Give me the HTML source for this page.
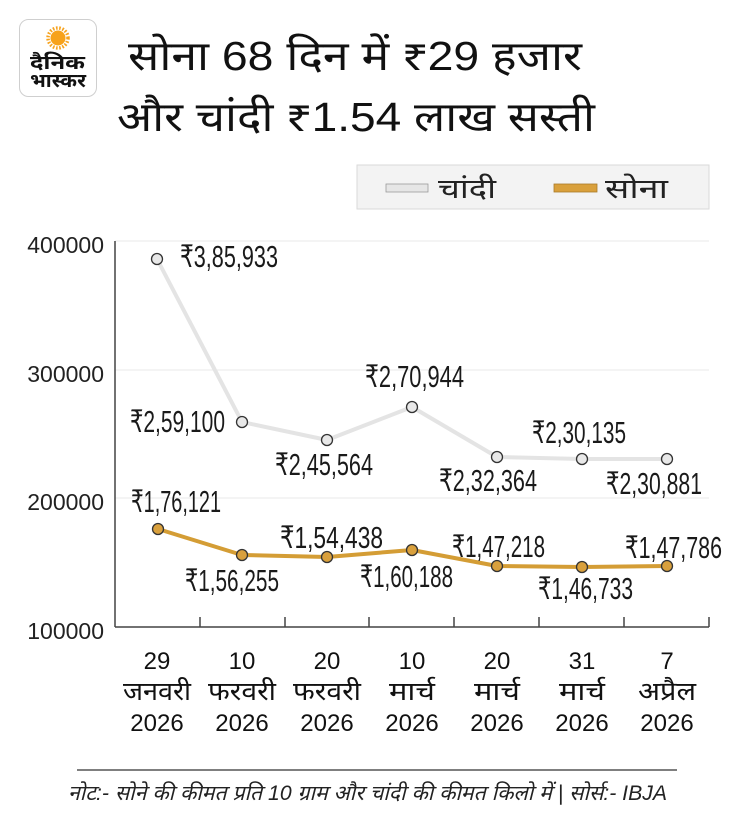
<!DOCTYPE html>
<html>
<head>
<meta charset="utf-8">
<style>
html,body{margin:0;padding:0;background:#fff;}
svg{display:block;}
.dv{font-family:"Liberation Sans","Noto Sans Devanagari","Lohit Devanagari","Mukta","Noto Sans CJK SC",sans-serif;}
.num{font-family:"Liberation Sans","DejaVu Sans",sans-serif;}
</style>
</head>
<body>
<svg width="730" height="830" viewBox="0 0 730 830" xmlns="http://www.w3.org/2000/svg">
  <rect width="730" height="830" fill="#fff"/>

  <!-- Logo -->
  <rect x="19.5" y="19.5" width="77" height="77" rx="9" fill="#fff" stroke="#cfcfcf" stroke-width="1"/>
  <circle cx="58" cy="38" r="7.5" fill="#f7a21b"/>
  <circle cx="58" cy="38" r="10" fill="none" stroke="#f7a21b" stroke-width="3.5" stroke-dasharray="1.6 1.6"/>
  <text class="dv" x="30" y="69" font-size="19" font-weight="bold" fill="#111" textLength="55" lengthAdjust="spacingAndGlyphs">दैनिक</text>
  <text class="dv" x="30" y="87" font-size="19" font-weight="bold" fill="#111" textLength="56" lengthAdjust="spacingAndGlyphs">भास्कर</text>

  <!-- Title -->
  <text class="dv" x="128" y="70" font-size="41" fill="#111" textLength="454" lengthAdjust="spacingAndGlyphs">सोना 68 दिन में ₹29 हजार</text>
  <text class="dv" x="117" y="131" font-size="41" fill="#111" textLength="478" lengthAdjust="spacingAndGlyphs">और चांदी ₹1.54 लाख सस्ती</text>

  <!-- Legend -->
  <rect x="357" y="165" width="352" height="44" fill="#f3f3f3" stroke="#d9d9d9" stroke-width="1"/>
  <rect x="386" y="184" width="42" height="8" fill="#e6e6e6" stroke="#9a9a9a" stroke-width="0.8"/>
  <text class="dv" x="438" y="198" font-size="27" fill="#222" textLength="58" lengthAdjust="spacingAndGlyphs">चांदी</text>
  <rect x="554" y="184" width="43" height="8" fill="#d9a03c" stroke="#a87b2a" stroke-width="0.8"/>
  <text class="dv" x="605" y="198" font-size="27" fill="#222" textLength="63" lengthAdjust="spacingAndGlyphs">सोना</text>

  <!-- Gridlines -->
  <g stroke="#e9e9e9" stroke-width="1">
    <line x1="115" y1="241" x2="709" y2="241"/>
    <line x1="115" y1="370" x2="709" y2="370"/>
    <line x1="115" y1="498" x2="709" y2="498"/>
  </g>

  <!-- Axes -->
  <g stroke="#444" stroke-width="1.5" fill="none">
    <line x1="115" y1="241" x2="115" y2="627"/>
    <line x1="115" y1="627" x2="709" y2="627"/>
    <line x1="200" y1="617" x2="200" y2="627"/>
    <line x1="285" y1="617" x2="285" y2="627"/>
    <line x1="369" y1="617" x2="369" y2="627"/>
    <line x1="454" y1="617" x2="454" y2="627"/>
    <line x1="539" y1="617" x2="539" y2="627"/>
    <line x1="624" y1="617" x2="624" y2="627"/>
    <line x1="709" y1="617" x2="709" y2="627"/>
  </g>

  <!-- Y labels -->
  <g class="num" font-size="23" fill="#222" text-anchor="end">
    <text x="104" y="253">400000</text>
    <text x="104" y="382">300000</text>
    <text x="104" y="510">200000</text>
    <text x="104" y="639">100000</text>
  </g>

  <!-- Silver series -->
  <polyline points="157,259 242,422 327,440 412,407 497,457 582,459 667,459" fill="none" stroke="#e4e4e4" stroke-width="4" stroke-linejoin="round"/>
  <g fill="#e8e8e8" stroke="#333" stroke-width="1.3">
    <circle cx="157" cy="259" r="5.5"/>
    <circle cx="242" cy="422" r="5.5"/>
    <circle cx="327" cy="440" r="5.5"/>
    <circle cx="412" cy="407" r="5.5"/>
    <circle cx="497" cy="457" r="5.5"/>
    <circle cx="582" cy="459" r="5.5"/>
    <circle cx="667" cy="459" r="5.5"/>
  </g>

  <!-- Gold series -->
  <polyline points="158,529 242,555 327,557 412,550 497,566 582,567 667,566" fill="none" stroke="#d49d35" stroke-width="4" stroke-linejoin="round"/>
  <g fill="#d9a03c" stroke="#333" stroke-width="1.3">
    <circle cx="158" cy="529" r="5.5"/>
    <circle cx="242" cy="555" r="5.5"/>
    <circle cx="327" cy="557" r="5.5"/>
    <circle cx="412" cy="550" r="5.5"/>
    <circle cx="497" cy="566" r="5.5"/>
    <circle cx="582" cy="567" r="5.5"/>
    <circle cx="667" cy="566" r="5.5"/>
  </g>

  <!-- Data labels -->
  <g class="num" font-size="31" fill="#1a1a1a">
    <text x="180" y="267" textLength="98" lengthAdjust="spacingAndGlyphs">₹3,85,933</text>
    <text x="130" y="432" textLength="95" lengthAdjust="spacingAndGlyphs">₹2,59,100</text>
    <text x="275" y="475" textLength="98" lengthAdjust="spacingAndGlyphs">₹2,45,564</text>
    <text x="365" y="387" textLength="99" lengthAdjust="spacingAndGlyphs">₹2,70,944</text>
    <text x="439" y="491" textLength="98" lengthAdjust="spacingAndGlyphs">₹2,32,364</text>
    <text x="532" y="443" textLength="94" lengthAdjust="spacingAndGlyphs">₹2,30,135</text>
    <text x="606" y="494" textLength="96" lengthAdjust="spacingAndGlyphs">₹2,30,881</text>
    <text x="131" y="512" textLength="90" lengthAdjust="spacingAndGlyphs">₹1,76,121</text>
    <text x="185" y="591" textLength="94" lengthAdjust="spacingAndGlyphs">₹1,56,255</text>
    <text x="280" y="548" textLength="103" lengthAdjust="spacingAndGlyphs">₹1,54,438</text>
    <text x="360" y="587" textLength="93" lengthAdjust="spacingAndGlyphs">₹1,60,188</text>
    <text x="452" y="557" textLength="93" lengthAdjust="spacingAndGlyphs">₹1,47,218</text>
    <text x="538" y="599" textLength="95" lengthAdjust="spacingAndGlyphs">₹1,46,733</text>
    <text x="625" y="558" textLength="97" lengthAdjust="spacingAndGlyphs">₹1,47,786</text>
  </g>

  <!-- X labels -->
  <g class="num" font-size="24" fill="#111" text-anchor="middle">
    <text x="157" y="669">29</text>
    <text x="157" y="731">2026</text>
    <text x="242" y="669">10</text>
    <text x="242" y="731">2026</text>
    <text x="327" y="669">20</text>
    <text x="327" y="731">2026</text>
    <text x="412" y="669">10</text>
    <text x="412" y="731">2026</text>
    <text x="497" y="669">20</text>
    <text x="497" y="731">2026</text>
    <text x="582" y="669">31</text>
    <text x="582" y="731">2026</text>
    <text x="667" y="669">7</text>
    <text x="667" y="731">2026</text>
  </g>
  <g class="dv" font-size="26" fill="#111">
    <text x="123" y="700" textLength="68" lengthAdjust="spacingAndGlyphs">जनवरी</text>
    <text x="208" y="700" textLength="68" lengthAdjust="spacingAndGlyphs">फरवरी</text>
    <text x="293" y="700" textLength="68" lengthAdjust="spacingAndGlyphs">फरवरी</text>
    <text x="389" y="700" textLength="46" lengthAdjust="spacingAndGlyphs">मार्च</text>
    <text x="474" y="700" textLength="46" lengthAdjust="spacingAndGlyphs">मार्च</text>
    <text x="559" y="700" textLength="46" lengthAdjust="spacingAndGlyphs">मार्च</text>
    <text x="638" y="700" textLength="58" lengthAdjust="spacingAndGlyphs">अप्रैल</text>
  </g>

  <!-- Footer -->
  <line x1="77" y1="770" x2="677" y2="770" stroke="#555" stroke-width="1.5"/>
  <text class="dv" x="68" y="800" font-size="21" font-style="italic" fill="#222" textLength="599" lengthAdjust="spacingAndGlyphs">नोट:- सोने की कीमत प्रति 10 ग्राम और चांदी की कीमत किलो में | सोर्स:- IBJA</text>
</svg>
</body>
</html>
